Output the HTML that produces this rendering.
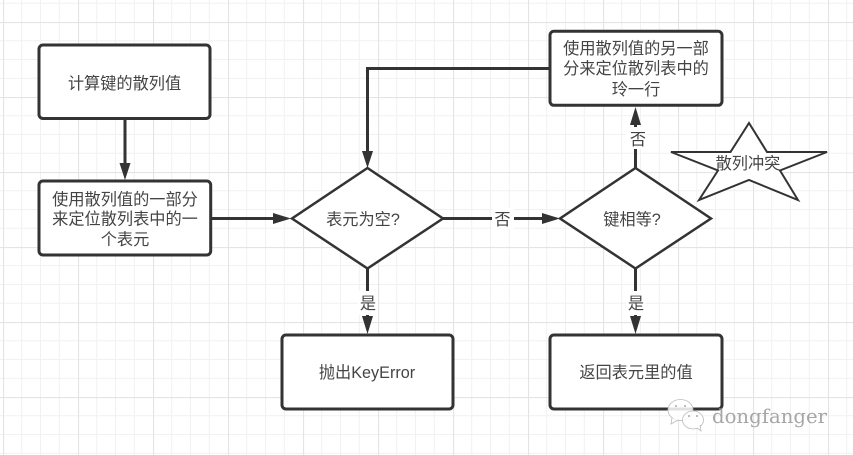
<!DOCTYPE html>
<html><head><meta charset="utf-8"><style>
html,body{margin:0;padding:0;background:#fff;overflow:hidden}
svg{display:block}
text{font-family:"Liberation Sans","Noto Sans CJK SC",sans-serif;font-size:16.2px;fill:#444;text-anchor:middle;dominant-baseline:central}
.s{fill:#fff;stroke:#333;stroke-width:3;stroke-linejoin:round}
.d{fill:#fff;stroke:#333;stroke-width:2.5;stroke-linejoin:miter}
.l{fill:none;stroke:#333;stroke-width:3}
.h{fill:#333;stroke:none}
</style></head><body>
<svg width="853" height="455" viewBox="0 0 853 455" xmlns="http://www.w3.org/2000/svg">
<defs>
<pattern id="g" x="3" y="22" width="75" height="75" patternUnits="userSpaceOnUse">
<path d="M18.75 0V75M37.5 0V75M56.25 0V75M0 18.75H75M0 37.5H75M0 56.25H75" stroke="#f1f1f1" stroke-width="1" fill="none"/>
<path d="M0.5 0V75M0 0.5H75" stroke="#e4e4e4" stroke-width="1.2" fill="none"/>
</pattern>
</defs>
<rect width="853" height="455" fill="#fff"/>
<rect width="853" height="455" fill="url(#g)"/>

<path class="l" d="M125 119V165"/><path class="h" d="M119.500 163H130.500L125 180Z"/>
<path class="l" d="M212 218.500H276"/><path class="h" d="M273 213L291 218.500L273 224Z"/>
<path class="l" d="M443 218.500H545"/><path class="h" d="M542 213L560 218.500L542 224Z"/>
<path class="l" d="M367.500 268V320"/><path class="h" d="M362 316H373L367.500 334Z"/>
<path class="l" d="M635.500 268V320"/><path class="h" d="M630 316H641L635.500 334Z"/>
<path class="l" d="M635.500 168V120"/><path class="h" d="M630 125H641L635.500 107Z"/>
<path class="l" d="M549 68.500H367.500V155"/><path class="h" d="M362 151H373L367.500 168Z"/>

<rect class="s" x="39" y="45" width="171" height="73.500" rx="4"/>
<rect class="s" x="39" y="181" width="171.700" height="74" rx="4"/>
<rect class="s" x="550" y="31.300" width="172" height="74" rx="4"/>
<rect class="s" x="282" y="335" width="171" height="74" rx="4"/>
<rect class="s" x="550" y="335" width="172" height="74" rx="4"/>
<path class="d" d="M367.500 168L443 218.500L367.500 268.500L292 218.500Z"/>
<path class="d" d="M635.500 168L711 218.500L635.500 268.500L560 218.500Z"/>
<path fill="#fff" stroke="#333" stroke-width="2" d="M749 123L767 152L827 152L780 170.500L798 200L749 180L699 200L718 170.500L671 152L730.500 152Z"/>

<rect x="492" y="208" width="22" height="21" fill="#fff"/>
<rect x="626" y="127" width="20" height="22" fill="#fff"/>
<rect x="358" y="291" width="20" height="24" fill="#fff"/>
<rect x="626" y="291" width="20" height="24" fill="#fff"/>

<text x="124.500" y="84">计算键的散列值</text>
<text x="125" y="200">使用散列值的一部分</text>
<text x="125" y="219.500">来定位散列表中的一</text>
<text x="125" y="240">个表元</text>
<text x="636" y="49">使用散列值的另一部</text>
<text x="636" y="69">分来定位散列表中的</text>
<text x="636" y="90">玲一行</text>
<text x="363" y="220">表元为空?</text>
<text x="632" y="220">键相等?</text>
<text x="367" y="373">抛出KeyError</text>
<text x="636" y="373">返回表元里的值</text>
<text x="748" y="164">散列冲突</text>
<text x="502.500" y="220">否</text>
<text x="638" y="140">否</text>
<text x="368" y="304">是</text>
<text x="636" y="304">是</text>

<g fill="#fff" fill-opacity="0.85" stroke="#bbb" stroke-width="0.8">
<ellipse cx="680.500" cy="410" rx="12.500" ry="10.500"/>
<path d="M672 418L671 424L678 420"/>
<ellipse cx="693" cy="420" rx="10.500" ry="9"/>
<path d="M697 428L701 431L700 425"/>
</g>
<g fill="#aaa">
<circle cx="676" cy="406" r="1"/><circle cx="685" cy="406" r="1"/>
<circle cx="689" cy="416" r="1"/><circle cx="697" cy="416" r="1"/>
</g>
<text x="769.500" y="416" textLength="115" lengthAdjust="spacingAndGlyphs" style="font-family:'DejaVu Serif','Liberation Serif',serif;font-size:20px;fill:#a6a6a6">dongfanger</text>
</svg>
</body></html>
